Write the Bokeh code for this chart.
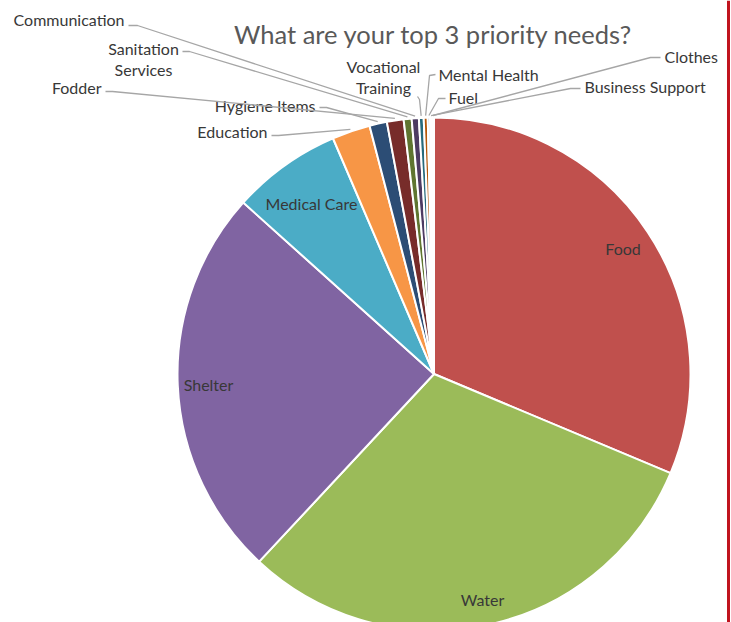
import math
from bokeh.plotting import figure
from bokeh.models import Range1d, ColumnDataSource
from bokeh.core.properties import value
from bokeh.embed import file_html
from bokeh.resources import INLINE

# ---- data (percent shares) ----
categories = ["Food", "Water", "Shelter", "Medical Care", "Education",
              "Hygiene Items", "Fodder", "Sanitation\nServices", "Communication",
              "Vocational\nTraining", "Mental Health", "Fuel", "Business Support", "Clothes"]
shares = [31.3, 30.6, 24.7, 6.9, 2.4, 1.1, 1.05, 0.5, 0.45, 0.3, 0.25, 0.15, 0.12, 0.12]
colors = ["#C0504D", "#9BBB59", "#8064A2", "#4BACC6", "#F79646", "#2C4D75",
          "#772C2A", "#5F7530", "#4D3B62", "#276A7C", "#B65708", "#729ACA",
          "#CD7371", "#AFC97A"]
title = "What are your top 3 priority needs?"

# ---- layout (pixel space, y downwards) ----
W, H = 731, 622
CX, CY, R = 433.5, 373.5, 256.5
FONT = "Lato"
LABEL_SIZE = "16px"
LABEL_COLOR = "#383838"

def Y(y):
    return H - y

p = figure(width=W, height=H, x_range=Range1d(0, W), y_range=Range1d(0, H),
           output_backend="svg", toolbar_location=None, min_border=0,
           x_axis_type=None, y_axis_type=None)
p.grid.visible = False
p.outline_line_color = None
p.background_fill_color = "white"
p.border_fill_color = "white"

total = sum(shares)
starts, ends, mids = [], [], []
acc = 0.0
for s in shares:
    a0 = acc / total * 360.0
    acc += s
    a1 = acc / total * 360.0
    starts.append(a0); ends.append(a1); mids.append((a0 + a1) / 2)

# clockwise-from-top degrees -> bokeh anticlockwise radians from +x
src = ColumnDataSource(dict(
    start=[math.radians(90 - e) for e in ends],
    end=[math.radians(90 - s) for s in starts],
    color=colors))
p.wedge(x=CX, y=Y(CY), radius=R, start_angle="start", end_angle="end",
        fill_color="color", line_color="white", line_width=2, source=src)

def edge(i, extra=2.0):
    a = math.radians(mids[i])
    return CX + (R + extra) * math.sin(a), CY - (R + extra) * math.cos(a)

# inside labels: radius fractions
inside = {0: 0.885, 1: 0.9, 2: 0.88, 3: 0.82}
for i, f in inside.items():
    a = math.radians(mids[i])
    x = CX + f * R * math.sin(a)
    y = CY - f * R * math.cos(a)
    p.text(x=[x], y=[Y(y)], text=[categories[i]], text_font=value(FONT),
           text_font_size=LABEL_SIZE, text_color=LABEL_COLOR,
           text_align="center", text_baseline="middle")

# outside labels: (index, text x, text y, align, leader points before edge)
outside = [
    (4, 267, 131, "right", [(271, 135), (278, 135)]),
    (5, 315, 105, "right", [(319, 107), (326, 107)]),
    (6, 101, 87, "right", [(105, 91), (112, 91)]),
    (7, 143, 58.5, "center", [(182, 51), (189, 51)]),
    (8, 124, 19, "right", [(128, 25), (137, 25)]),
    (9, 383, 76.5, "center", [(417, 96), (419, 99)]),
    (10, 438, 74, "left", [(435, 74), (429, 75)]),
    (11, 448, 97, "left", [(445, 98), (438, 98)]),
    (12, 584, 86, "left", [(580, 88), (570, 88)]),
    (13, 664, 56, "left", [(660, 57), (650, 57)]),
]
for i, tx, ty, al, pts in outside:
    ex, ey = edge(i)
    xs = [q[0] for q in pts] + [ex]
    ys = [Y(q[1]) for q in pts] + [Y(ey)]
    p.line(xs, ys, line_color="#A6A6A6", line_width=1.3)
    p.text(x=[tx], y=[Y(ty)], text=[categories[i]], text_font=value(FONT),
           text_font_size=LABEL_SIZE, text_color=LABEL_COLOR, text_align=al,
           text_baseline="middle", text_line_height=1.1)

# title
p.text(x=[433], y=[Y(33)], text=[title], text_font=value(FONT),
       text_font_size="25.5px", text_color="#595959",
       text_align="center", text_baseline="middle")

# red frame line at right
p.line([728, 728], [0, H], line_color="#C0141E", line_width=3)

open("out.html", "w").write(file_html(p, INLINE))
